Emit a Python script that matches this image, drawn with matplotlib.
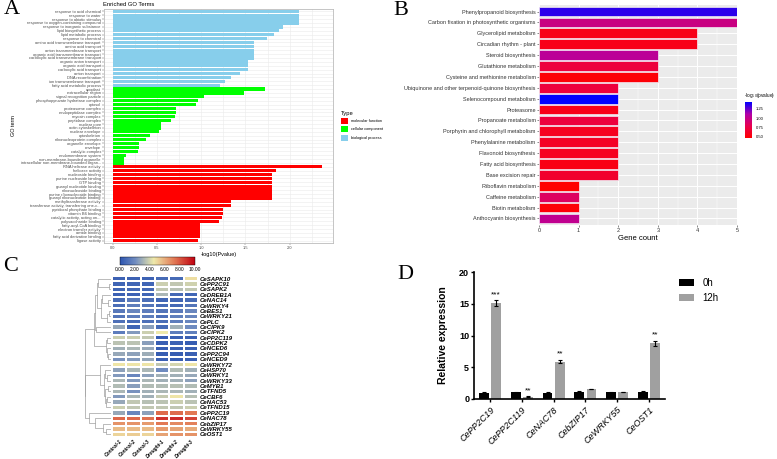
import numpy as np
import matplotlib
matplotlib.use("Agg")
import matplotlib.pyplot as plt
from matplotlib.colors import LinearSegmentedColormap, Normalize
from matplotlib.patches import Patch
from matplotlib.colorbar import ColorbarBase

plt.rcParams['font.family'] = ['Liberation Sans', 'DejaVu Sans']

# ---------------- data: panel A (GO enrichment) ----------------
bp_terms = ['response to acid chemical', 'response to water', 'response to abiotic stimulus',
            'response to oxygen-containing compound', 'response to inorganic substance',
            'lipid biosynthetic process', 'lipid metabolic process', 'response to chemical',
            'amino acid transmembrane transport', 'amino acid transport',
            'anion transmembrane transport', 'organic acid transmembrane transport',
            'carboxylic acid transmembrane transport', 'organic anion transport',
            'organic acid transport', 'carboxylic acid transport', 'anion transport',
            'DNA recombination', 'ion transmembrane transport', 'fatty acid metabolic process']
bp_vals = [2.11, 2.11, 2.11, 2.11, 1.93, 1.88, 1.82, 1.74, 1.60, 1.60, 1.60, 1.60, 1.60,
           1.53, 1.53, 1.53, 1.44, 1.34, 1.27, 1.21]
cc_terms = ['apoplast', 'extracellular region', 'signal recognition particle',
            'phosphopyruvate hydratase complex', 'cytosol', 'proteasome complex',
            'endopeptidase complex', 'myosin complex', 'peptidase complex', 'nuclear pore',
            'actin cytoskeleton', 'nuclear envelope', 'cytoskeleton', 'ribonucleoprotein complex',
            'organelle envelope', 'envelope', 'catalytic complex', 'endomembrane system',
            'non-membrane-bounded organelle', 'intracellular non-membrane-bounded organ...']
cc_vals = [1.72, 1.48, 1.03, 0.96, 0.94, 0.71, 0.71, 0.70, 0.66, 0.54, 0.54, 0.52, 0.42,
           0.38, 0.30, 0.30, 0.29, 0.15, 0.13, 0.13]
mf_terms = ['RNA helicase activity', 'helicase activity', 'nucleoside binding',
            'purine nucleoside binding', 'GTP binding', 'guanyl nucleotide binding',
            'ribonucleoside binding', 'purine ribonucleoside binding',
            'guanyl ribonucleotide binding', 'methyltransferase activity',
            'transferase activity, transferring one-c...', 'pyridoxal phosphate binding',
            'vitamin B6 binding', 'catalytic activity, acting on...', 'polysaccharide binding',
            'fatty-acyl-CoA binding', 'electron transfer activity', 'amide binding',
            'fatty acid derivative binding', 'ligase activity']
mf_vals = [2.37, 1.85, 1.80, 1.80, 1.80, 1.80, 1.80, 1.80, 1.80, 1.34, 1.34, 1.25, 1.25,
           1.23, 1.20, 0.99, 0.99, 0.99, 0.99, 0.96]
type_names = ['molecular function', 'cellular component', 'biological process']
type_colors = ['#FF0000', '#00FF00', '#87CEEB']

# ---------------- data: panel B (KEGG) ----------------
kegg_terms = ['Phenylpropanoid biosynthesis', 'Carbon fixation in photosynthetic organisms',
              'Glycerolipid metabolism', 'Circadian rhythm - plant', 'Steroid biosynthesis',
              'Glutathione metabolism', 'Cysteine and methionine metabolism',
              'Ubiquinone and other terpenoid-quinone biosynthesis', 'Selenocompound metabolism',
              'Proteasome', 'Propanoate metabolism', 'Porphyrin and chlorophyll metabolism',
              'Phenylalanine metabolism', 'Flavonoid biosynthesis', 'Fatty acid biosynthesis',
              'Base excision repair', 'Riboflavin metabolism', 'Caffeine metabolism',
              'Biotin metabolism', 'Anthocyanin biosynthesis']
kegg_count = [5, 5, 4, 4, 3, 3, 3, 2, 2, 2, 2, 2, 2, 2, 2, 2, 1, 1, 1, 1]
kegg_logp = [1.35, 0.97, 0.57, 0.57, 1.05, 0.72, 0.50, 0.72, 1.43, 0.57, 0.72, 0.60,
             0.62, 0.60, 0.55, 0.66, 0.47, 0.85, 0.50, 1.02]

# ---------------- data: panel C (heatmap) ----------------
genes = ['CeSAPK10', 'CePP2C91', 'CeSAPK2', 'CeDREB1A', 'CeNAC14', 'CeWRKY4', 'CeBES1',
         'CeWRKY21', 'CePLC', 'CeCIPK9', 'CeCIPK2', 'CePP2C119', 'CeCDPK2', 'CeNCED6',
         'CePP2C94', 'CeNCED9', 'CeWRKY72', 'CeHSP70', 'CeWRKY1', 'CeWRKY33', 'CeMYB1',
         'CeTFND5', 'CeCBF6', 'CeNAC53', 'CeTFND15', 'CePP2C19', 'CeNAC78', 'CebZIP17',
         'CeWRKY55', 'CeOST1']
samples = ['Control-1', 'Control-2', 'Control-3', 'Drought-1', 'Drought-2', 'Drought-3']
expr = np.array([
    [0.5, 0.5, 0.5, 0.8, 0.8, 4.8],
    [0.6, 0.6, 0.6, 3.8, 3.6, 3.9],
    [0.6, 0.7, 0.7, 3.6, 3.4, 3.6],
    [0.5, 0.5, 0.6, 3.2, 0.7, 0.6],
    [0.8, 1.3, 0.9, 0.6, 0.6, 0.8],
    [0.9, 1.5, 1.2, 0.8, 0.7, 1.2],
    [1.3, 1.8, 1.5, 1.2, 1.4, 1.8],
    [1.2, 1.5, 1.5, 1.0, 1.6, 1.8],
    [1.0, 0.8, 1.0, 0.9, 1.5, 1.8],
    [2.8, 0.6, 2.5, 0.8, 3.0, 2.0],
    [1.5, 2.4, 3.8, 4.5, 1.5, 1.6],
    [3.8, 3.8, 3.6, 0.3, 0.4, 0.4],
    [3.5, 3.5, 2.5, 0.4, 0.5, 0.3],
    [3.0, 3.2, 2.8, 0.3, 0.4, 0.4],
    [2.8, 2.6, 2.9, 0.3, 0.3, 0.4],
    [2.2, 2.4, 2.7, 0.4, 0.3, 0.4],
    [4.6, 4.6, 4.6, 3.6, 4.0, 4.6],
    [2.6, 3.2, 3.2, 2.0, 3.3, 3.0],
    [2.4, 1.8, 2.6, 3.0, 3.0, 2.8],
    [3.2, 2.4, 3.2, 3.0, 3.0, 2.6],
    [3.3, 2.5, 3.3, 3.3, 3.4, 3.3],
    [3.2, 2.2, 3.0, 3.2, 3.2, 3.0],
    [2.4, 3.2, 3.0, 3.7, 4.6, 3.4],
    [2.8, 3.6, 3.4, 3.5, 3.8, 3.5],
    [3.8, 3.6, 3.6, 3.6, 3.6, 3.8],
    [2.8, 1.8, 2.6, 7.5, 7.5, 7.2],
    [7.6, 7.6, 7.4, 8.8, 9.0, 8.4],
    [6.6, 6.6, 6.4, 7.2, 6.8, 7.0],
    [5.6, 5.6, 5.6, 6.4, 6.2, 6.0],
    [5.0, 5.2, 5.0, 6.2, 6.6, 6.6],
])
# cluster tree (row indices)
tree = (((((0, (1, 2)), ((3, (4, 5)), ((6, 7), 8))), (9, 10)),
         ((11, 12), (13, (14, 15)))),
        ((16, ((17, (18, 19)), ((20, 21), ((22, 23), 24)))),
         (25, (26, (27, (28, 29))))))

# ---------------- data: panel D (qPCR) ----------------
qgenes = ['CePP2C19', 'CePP2C119', 'CeNAC78', 'CebZIP17', 'CeWRKY55', 'CeOST1']
mean_0h = [1.0, 1.05, 1.0, 1.1, 1.05, 1.1]
err_0h = [0.05, 0.06, 0.05, 0.12, 0.08, 0.15]
mean_12h = [15.1, 0.35, 5.9, 1.6, 1.1, 8.8]
err_12h = [0.5, 0.1, 0.3, 0.03, 0.06, 0.4]
signif = ['***', '**', '**', '', '', '**']

W, H = 777, 459
fig = plt.figure(figsize=(W / 100, H / 100), dpi=100)


def rect(l, t, r, b):
    return [l / W, 1 - b / H, (r - l) / W, (b - t) / H]


def letter(x, y, s):
    fig.text(x / W, 1 - y / H, s, fontsize=16, family='Liberation Serif', va='top', ha='left')


# ================= Panel A =================
axA = fig.add_axes(rect(104, 9, 333, 243))
terms = bp_terms + cc_terms + mf_terms
vals = bp_vals + cc_vals + mf_vals
cols = [type_colors[2]] * 20 + [type_colors[1]] * 20 + [type_colors[0]] * 20
ypos = np.arange(len(terms))
axA.set_axisbelow(True)
axA.barh(ypos, vals, height=0.85, color=cols)
axA.set_ylim(len(terms) - 0.4, -0.6)
axA.set_xlim(-0.1, 2.49)
axA.set_xticks([0, 0.5, 1.0, 1.5, 2.0])
axA.set_xticks(np.arange(0.25, 2.5, 0.5), minor=True)
axA.set_xticklabels(['0.0', '0.5', '1.0', '1.5', '2.0'])
axA.set_yticks(ypos)
axA.set_yticklabels(terms)
axA.tick_params(axis='both', labelsize=2.9, colors='#4D4D4D', length=1.2, width=0.3, pad=1)
axA.tick_params(axis='x', which='minor', length=0)
axA.grid(True, which='both', color='#EBEBEB', linewidth=0.4)
for s in axA.spines.values():
    s.set_color('#BBBBBB')
    s.set_linewidth(0.6)
axA.set_xlabel(r'-log10(Pvalue)', fontsize=4, labelpad=1.5)
axA.set_ylabel('GO term', fontsize=4, labelpad=3)
fig.text(103 / W, 1 - 5 / H, 'Enriched GO Terms', fontsize=4.2, va='center', ha='left')
handles = [Patch(facecolor=c, edgecolor='none') for c in type_colors]
fig.legend(handles, type_names, title='Type', loc='upper left',
           bbox_to_anchor=(339 / W, 1 - 109 / H), frameon=False, fontsize=2.8,
           title_fontsize=4.2, handlelength=1.9, handleheight=2.0, labelspacing=0.6,
           alignment='left', borderaxespad=0, handletextpad=0.8)
letter(4, 0, 'A')

# ================= Panel B =================
axB = fig.add_axes(rect(539, 5, 737, 225))
cmapB = LinearSegmentedColormap.from_list('b', ['#FF0000', '#E8004F', '#B000A8', '#0000FF'])
normB = Normalize(0.47, 1.43)
yb = np.arange(len(kegg_terms))
axB.set_facecolor('#EBEBEB')
axB.set_axisbelow(True)
axB.barh(yb, kegg_count, height=0.9, color=cmapB(normB(np.array(kegg_logp))),
         edgecolor='#F4E8F4', linewidth=0.5)
axB.set_xlim(0, 5)
axB.set_ylim(len(kegg_terms) - 0.4, -0.6)
axB.set_yticks(yb)
axB.set_yticklabels(kegg_terms)
axB.set_xticks(range(6))
axB.set_xticks(np.arange(0.5, 5, 1), minor=True)
axB.grid(True, which='major', color='white', linewidth=0.7)
axB.grid(True, which='minor', axis='x', color='white', linewidth=0.35)
axB.tick_params(axis='both', labelsize=4, colors='#333333', length=1.5, width=0.4, pad=1)
axB.tick_params(axis='x', which='minor', length=0)
for s in axB.spines.values():
    s.set_visible(False)
axB.set_xlabel('Gene count', fontsize=5.5, labelpad=1)
caxB = fig.add_axes(rect(745, 102, 752, 138))
cbB = ColorbarBase(caxB, cmap=cmapB, norm=normB, orientation='vertical')
cbB.set_ticks([0.5, 0.75, 1.0, 1.25])
cbB.set_ticklabels(['0.50', '0.75', '1.00', '1.25'])
cbB.outline.set_visible(False)
caxB.tick_params(labelsize=3, length=1.5, width=0.3, color='white', pad=1.5)
fig.text(744 / W, 1 - 96 / H, r'-log$_{10}$(pvalue)', fontsize=3.4, va='center', ha='left')
letter(393, 1, 'B')

# ================= Panel C =================
cmapC = LinearSegmentedColormap.from_list(
    'c', [(0, '#2E56B0'), (0.2, '#6F8BC0'), (0.45, '#EEE9AA'), (0.72, '#E27A55'), (1, '#C00010')])
axC = fig.add_axes(rect(112, 276, 198, 437))
axC.pcolormesh(np.arange(7), np.arange(31), expr, cmap=cmapC, vmin=0, vmax=10,
               edgecolors='white', linewidth=0.3)
axC.set_ylim(30, 0)
axC.set_xlim(0, 6)
axC.set_yticks(np.arange(30) + 0.5)
axC.set_yticklabels(genes, fontsize=4.3, fontweight='bold', fontstyle='italic')
axC.yaxis.tick_right()
axC.set_xticks(np.arange(6) + 0.5)
axC.set_xticklabels(samples, fontsize=3.6, fontweight='bold', fontstyle='italic',
                    rotation=45, ha='right', rotation_mode='anchor')
axC.tick_params(axis='y', length=0, pad=1.5)
axC.tick_params(axis='x', length=0, pad=1)
for s in axC.spines.values():
    s.set_visible(False)

# dendrogram
axD0 = fig.add_axes(rect(84, 276, 111, 437))


def leaves(node):
    if isinstance(node, int):
        return [node]
    return leaves(node[0]) + leaves(node[1])


def draw(node):
    if isinstance(node, int):
        return node + 0.5, 0.0
    ya, ha = draw(node[0])
    yb_, hb = draw(node[1])
    la, lb = leaves(node[0]), leaves(node[1])
    d = np.mean([np.linalg.norm(expr[i] - expr[j]) for i in la for j in lb])
    h = max(d, ha, hb) + 0.3
    axD0.plot([ha, h, h, hb], [ya, ya, yb_, yb_], color='#A0A0A0', linewidth=0.5)
    return (ya + yb_) / 2, h


_, hroot = draw(tree)
axD0.set_xlim(hroot * 1.02, 0)
axD0.set_ylim(30, 0)
axD0.axis('off')

caxC = fig.add_axes(rect(120, 257, 195, 265))
cbC = ColorbarBase(caxC, cmap=cmapC, norm=Normalize(0, 10), orientation='horizontal')
cbC.set_ticks([0, 2, 4, 6, 8, 10])
cbC.set_ticklabels(['0.00', '2.00', '4.00', '6.00', '8.00', '10.00'])
cbC.outline.set_linewidth(0.3)
caxC.tick_params(labelsize=3.5, length=0, pad=1.5)
letter(3, 257, 'C')

# ================= Panel D =================
axQ = fig.add_axes(rect(474, 272, 665, 399))
xq = np.arange(len(qgenes))
bw = 0.31
axQ.bar(xq - 0.19, mean_0h, bw, color='black', label='0h',
        yerr=err_0h, error_kw=dict(ecolor='black', capsize=1.5, elinewidth=0.8, capthick=0.8))
axQ.bar(xq + 0.19, mean_12h, bw, color='#A0A0A0', label='12h',
        yerr=err_12h, error_kw=dict(ecolor='black', capsize=1.5, elinewidth=0.8, capthick=0.8))
for i, s in enumerate(signif):
    if s:
        axQ.text(xq[i] + 0.19, mean_12h[i] + err_12h[i] + 0.3, s, ha='center', va='bottom',
                 fontsize=6)
axQ.set_xlim(-0.5, 5.5)
axQ.set_ylim(0, 20)
axQ.set_yticks([0, 5, 10, 15, 20])
axQ.set_xticks(xq)
axQ.set_xticklabels(qgenes, rotation=45, ha='right', rotation_mode='anchor',
                    fontsize=6.5, fontstyle='italic')
for lab in axQ.get_yticklabels():
    lab.set_fontweight('bold')
axQ.tick_params(axis='y', labelsize=6.5, length=2.5, width=1, pad=1)
axQ.tick_params(axis='x', length=2.5, width=1, pad=2)
axQ.spines['top'].set_visible(False)
axQ.spines['right'].set_visible(False)
axQ.spines['left'].set_linewidth(1.2)
axQ.spines['bottom'].set_linewidth(1.2)
axQ.set_ylabel('Relative expression', fontsize=7.5, fontweight='bold', labelpad=8)
fig.legend(*axQ.get_legend_handles_labels(), loc='upper left',
           bbox_to_anchor=(675 / W, 1 - 274 / H), frameon=False, fontsize=7,
           handlelength=1.6, handleheight=0.7, labelspacing=0.5, borderaxespad=0)
letter(397, 265, 'D')

fig.savefig('out.png', dpi=100)
